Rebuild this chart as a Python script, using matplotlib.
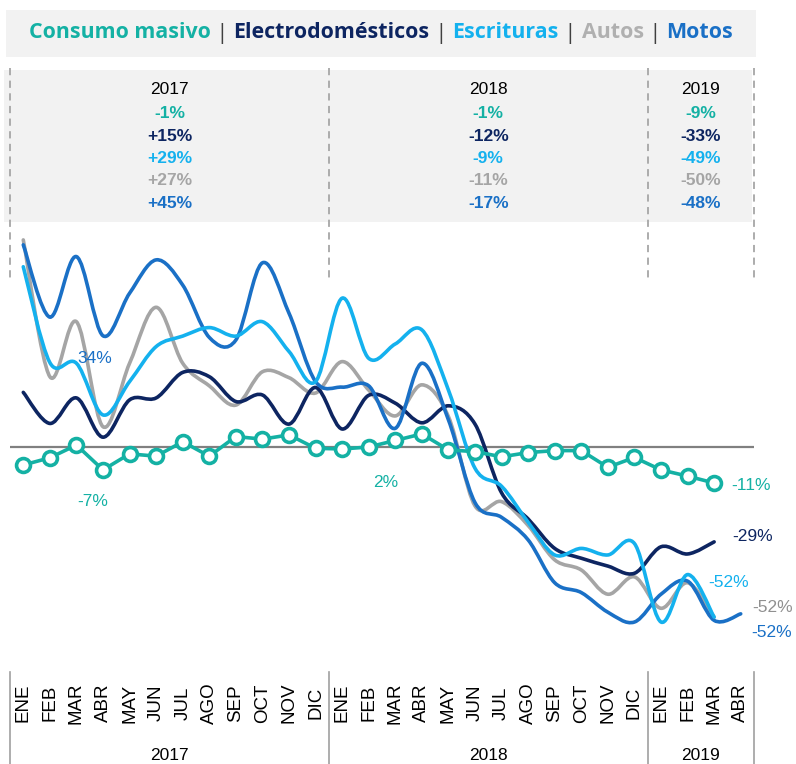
import numpy as np
import matplotlib.pyplot as plt
from matplotlib.path import Path
from matplotlib.patches import PathPatch, Rectangle
from matplotlib import transforms

W, H = 796, 764

months = ["ENE", "FEB", "MAR", "ABR", "MAY", "JUN", "JUL", "AGO", "SEP", "OCT", "NOV", "DIC"] * 2 \
    + ["ENE", "FEB", "MAR", "ABR"]
years = ["2017", "2018", "2019"]
year_bounds = [-0.5, 11.5, 23.5, 27.5]

consumo = [-5.5, -3.3, 0.6, -7.0, -2.1, -2.8, 1.6, -2.8, 3.2, 2.4, 3.7, -0.4, -0.6, 0.0,
           2.0, 4.0, -0.9, -1.4, -3.0, -1.7, -1.1, -1.1, -6.2, -3.2, -7.0, -8.9, -11.0]
electro = [16.7, 7.2, 15.0, 3.0, 14.4, 15.0, 22.8, 21.5, 13.9, 15.9, 7.0, 18.2, 5.5, 15.8,
           13.4, 7.4, 12.6, 7.0, -14.0, -22.0, -31.0, -34.0, -36.4, -38.6, -30.5, -32.7, -29.0]
escrituras = [55.1, 25.8, 25.6, 9.8, 20.0, 30.7, 33.9, 36.5, 33.9, 38.3, 29.2, 20.0, 45.5, 27.1,
              31.5, 35.8, 17.4, -6.5, -12.0, -23.0, -33.0, -31.0, -33.0, -29.5, -53.5, -39.0, -52.0]
autos = [63.3, 21.5, 38.3, 6.2, 25.6, 42.7, 25.6, 18.7, 12.8, 23.0, 21.2, 16.5, 26.1, 17.4,
         9.5, 19.0, 9.3, -18.0, -16.7, -24.0, -34.5, -37.6, -45.0, -39.7, -49.3, -41.5, -52.0]
motos = [61.8, 39.7, 58.2, 34.0, 47.0, 57.2, 49.5, 33.5, 32.7, 56.3, 40.9, 20.0, 18.3, 18.7,
         5.7, 25.6, 8.3, -17.0, -21.5, -28.4, -41.5, -44.5, -50.5, -53.5, -45.0, -41.0, -53.0, -51.0]

# variacion anual por serie (2017, 2018, 2019)
var_consumo = ["-1%", "-1%", "-9%"]
var_electro = ["+15%", "-12%", "-33%"]
var_escrituras = ["+29%", "-9%", "-49%"]
var_autos = ["+27%", "-11%", "-50%"]
var_motos = ["+45%", "-17%", "-48%"]

TEAL = "#14b1a4"
NAVY = "#0d2561"
LIGHT = "#14b1ee"
GRAY = "#a5a5a5"
BLUE = "#1a70c6"
SEP = "#404040"

plt.rcParams["font.family"] = ["Liberation Sans", "DejaVu Sans"]


def fy(px):
    return 1 - px / H


def smooth_path(ys):
    pts = np.column_stack([np.arange(len(ys)), ys]).astype(float)
    n = len(pts)
    verts, codes = [pts[0]], [Path.MOVETO]
    for i in range(n - 1):
        p0 = pts[i - 1] if i > 0 else pts[i]
        p1, p2 = pts[i], pts[i + 1]
        p3 = pts[i + 2] if i + 2 < n else pts[i + 1]
        verts += [p1 + (p2 - p0) / 6, p2 - (p3 - p1) / 6, p2]
        codes += [Path.CURVE4] * 3
    return Path(verts, codes)


fig = plt.figure(figsize=(W / 100, H / 100), dpi=100)
L, R = 10, 754
ax = fig.add_axes([L / W, fy(676), (R - L) / W, 458 / H])
ax.set_xlim(-0.5, 27.5)
ax.set_ylim(-70, 70)
ax.axis("off")
trans = transforms.blended_transform_factory(ax.transData, fig.transFigure)

# cajas grises
fig.patches.append(Rectangle((6 / W, fy(57)), 750 / W, 47 / H, transform=fig.transFigure,
                             facecolor="#f2f2f2", edgecolor="none", zorder=-5))
fig.patches.append(Rectangle((4 / W, fy(222)), 748 / W, 152 / H, transform=fig.transFigure,
                             facecolor="#f2f2f2", edgecolor="none", zorder=-5))

for b in year_bounds:
    ax.plot([b, b], [fy(68), fy(280)], transform=trans, color="#a6a6a6", lw=1.3,
            ls=(0, (4, 3)), clip_on=False)
    ax.plot([b, b], [fy(672), fy(764)], transform=trans, color="#a0a0a0", lw=1.2,
            clip_on=False)

ax.axhline(0, color="#808080", lw=1.6, zorder=1)

for ys, col in [(autos, GRAY), (electro, NAVY), (motos, BLUE), (escrituras, LIGHT)]:
    ax.add_patch(PathPatch(smooth_path(ys), fill=False, edgecolor=col, lw=2.6,
                           capstyle="round", joinstyle="round", zorder=2))

ax.plot(range(len(consumo)), consumo, color=TEAL, lw=2.6, marker="o", ms=10,
        mfc="white", mec=TEAL, mew=2.6, zorder=3)

# etiquetas de valores
lab = dict(fontsize=12.5, va="center", ha="left")
ax.text(26.63, -11.9, "-11%", color=TEAL, **lab)
ax.text(26.67, -27.5, "-29%", color=NAVY, **lab)
ax.text(25.77, -41.3, "-52%", color=LIGHT, **lab)
ax.text(27.43, -49.2, "-52%", color="#909090", **lab, clip_on=False)
ax.text(27.39, -56.6, "-52%", color=BLUE, **lab, clip_on=False)
ax.text(2.02, 27.2, "34%", color=BLUE, **lab)
ax.text(2.02, -16.8, "-7%", color=TEAL, **lab)
ax.text(13.16, -11.0, "2%", color=TEAL, **lab)

# encabezado por año
rows = [(var_consumo, TEAL), (var_electro, NAVY), (var_escrituras, LIGHT),
        (var_autos, GRAY), (var_motos, BLUE)]
for k, yr in enumerate(years):
    xc = (year_bounds[k] + year_bounds[k + 1]) / 2
    ax.text(xc, fy(90), yr, transform=trans, ha="center", va="center", fontsize=12.5)
    for j, (vals, col) in enumerate(rows):
        ax.text(xc, fy(114 + 22.3 * j), vals[k], transform=trans, ha="center",
                va="center", fontsize=12.5, fontweight="bold", color=col)
    ax.text(xc, fy(755), yr, transform=trans, ha="center", va="center", fontsize=12.5)

for i, m in enumerate(months):
    ax.text(i, fy(703), m, transform=trans, rotation=90, ha="center", va="center",
            fontsize=13.5)

# titulo tipo leyenda
pieces = [("Consumo masivo", TEAL, "bold"), (" | ", SEP, "normal"),
          ("Electrodomésticos", NAVY, "bold"), (" | ", SEP, "normal"),
          ("Escrituras", LIGHT, "bold"), (" | ", SEP, "normal"),
          ("Autos", "#b0b0b0", "bold"), (" | ", SEP, "normal"),
          ("Motos", BLUE, "bold")]
renderer = fig.canvas.get_renderer()
texts, widths = [], []
for s, col, wt in pieces:
    t = fig.text(0, fy(33), s, color=col, fontweight=wt, fontsize=15.4,
                 family="Open Sans", va="center", ha="left")
    texts.append(t)
    widths.append(t.get_window_extent(renderer).width)
x0 = 381 - sum(widths) / 2
for t, w in zip(texts, widths):
    t.set_x(x0 / W)
    x0 += w

fig.savefig("out.png", dpi=100)
